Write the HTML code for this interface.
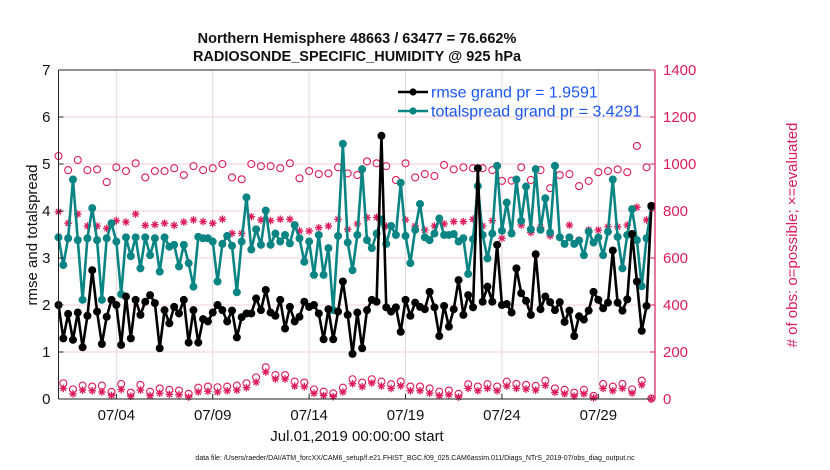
<!DOCTYPE html>
<html><head><meta charset="utf-8"><style>
body{margin:0;background:#fff;}
svg{display:block;font-family:"Liberation Sans",Arial,sans-serif;}
</style></head><body>
<svg id="c" width="830" height="470" viewBox="0 0 830 470">
<g id="grid"></g><g id="marks"></g><g id="axes"></g>
</svg>
<script>
const rmse=[2.0,1.29,1.81,1.26,1.84,1.1,1.77,2.74,1.86,1.17,1.75,2.11,2.0,1.15,2.18,1.29,2.11,1.79,2.07,2.21,2.04,1.08,1.89,1.61,1.96,1.82,2.11,1.2,1.89,1.2,1.7,1.65,
1.84,2.0,1.89,1.65,1.88,1.31,1.74,1.82,1.82,2.14,1.89,2.32,1.84,1.77,2.11,1.5,1.96,1.65,1.75,2.07,1.96,2.0,1.82,1.27,1.91,1.27,1.86,2.5,1.79,0.96,1.84,
1.08,1.89,2.11,2.07,5.6,1.95,1.86,1.95,1.43,2.11,1.77,2.05,1.96,1.91,2.28,1.95,1.34,1.98,1.54,1.91,2.53,1.79,2.21,1.95,4.91,2.07,2.39,2.07,3.28,2.0,2.02,
1.84,2.78,2.25,2.09,1.79,3.08,1.91,2.18,2.06,1.89,2.06,1.64,1.88,1.34,1.76,1.69,1.88,2.28,2.11,1.93,2.05,3.16,2.05,1.88,2.12,3.51,2.5,1.45,1.98,4.11];
const spread=[3.44,2.85,3.42,4.67,3.38,2.11,3.42,4.06,3.38,2.11,3.42,3.74,3.35,2.23,3.44,3.04,3.44,2.78,3.44,3.06,3.42,2.71,3.44,3.24,3.28,2.82,3.28,2.89,2.39,3.45,3.42,3.42,
3.35,2.5,3.3,3.47,3.26,2.27,3.35,4.29,3.18,3.61,3.28,4.01,3.28,3.52,3.35,3.49,3.31,3.7,3.42,2.92,3.35,2.64,3.49,2.64,3.21,1.89,3.47,5.43,3.33,2.74,3.49,
4.89,3.38,3.21,3.52,3.82,3.3,3.68,3.49,4.6,3.47,2.89,3.6,4.15,3.44,3.38,3.52,3.84,3.49,3.49,3.51,3.35,3.42,2.66,3.4,4.53,3.49,2.99,3.52,4.96,3.58,4.18,
3.52,4.67,3.79,4.52,3.61,4.89,3.6,4.27,3.54,4.96,3.44,3.3,3.44,3.3,3.37,3.06,3.56,3.33,3.44,3.06,3.56,4.67,3.45,2.78,3.49,4.04,3.38,2.4,3.42,4.09];
const possHigh=[1034,974,1017,974,977,923,986,970,1003,943,970,970,982,953,991,974,
982,1000,943,935,1000,991,991,982,1003,939,970,957,960,986,960,953,
1011,1003,991,932,1003,943,957,949,996,977,986,982,982,974,928,
929,986,932,974,897,953,957,906,928,965,970,977,965,1077,986];
const evalHigh=[797,748,787,736,736,726,759,753,787,739,742,748,739,753,762,755,
748,765,705,705,776,762,759,765,765,715,715,729,736,765,722,745,
772,773,736,698,762,736,719,736,745,755,755,765,736,759,684,
708,740,708,731,694,688,740,677,719,719,733,733,740,816,762];
const possLow=[67,41,57,53,57,30,64,27,60,31,45,39,36,22,48,53,
50,53,57,67,92,135,102,102,74,70,41,31,24,48,84,
70,84,74,63,74,53,53,45,31,36,22,63,53,63,53,74,
64,60,56,78,45,39,27,39,13,64,53,64,41,78,2];
const evalLow=[45,22,38,35,30,15,40,12,38,14,25,20,18,8,30,33,
30,35,38,48,72,115,85,85,55,52,24,15,10,30,65,
52,68,55,45,56,35,35,25,14,18,8,45,35,45,35,55,
45,42,38,58,28,22,12,22,5,45,35,45,25,60,0];
const yTicks=[0,1,2,3,4,5,6,7];
const rTicks=[0,200,400,600,800,1000,1200,1400];
const xTickDays=[3,8,13,18,23,28];
const xTickLabels=["07/04","07/09","07/14","07/19","07/24","07/29"];

const X0=58.5,X1=655,Y0=399,Y1=70,DAY=19.28;
const xT=i=>X0+i*DAY/4;
const xD=d=>X0+d*DAY;
const yL=v=>Y0-(v/7)*(Y0-Y1);
const yR=v=>Y0-(v/1400)*(Y0-Y1);
const NS="http://www.w3.org/2000/svg";
const MAG="#dc1c5a";
function mk(p,t,a){const e=document.createElementNS(NS,t);for(const k in a)e.setAttribute(k,a[k]);p.appendChild(e);return e;}
const grid=document.getElementById('grid'),marks=document.getElementById('marks'),axes=document.getElementById('axes');

for(let k=0;k<xTickDays.length;k++){
 const g=mk(grid,'line',{x1:xD(xTickDays[k]),x2:xD(xTickDays[k]),y1:Y1,y2:Y0,stroke:'#dcdcdc','stroke-width':1});
 
 
}
for(const v of rTicks.slice(1,-1)){
 const g=mk(grid,'line',{x1:X0,x2:X1,y1:yR(v),y2:yR(v),stroke:'#f5cfdc','stroke-width':1});
 
 
}

function circ(x,y){const c=mk(marks,'circle',{cx:x,cy:y,r:3.5,fill:'none',stroke:MAG,'stroke-width':1.1});
 
 }
function star(x,y){const g=mk(marks,'g',{stroke:MAG,'stroke-width':1.3});
 
 
 const r=3.8;mk(g,'line',{x1:x-r,x2:x+r,y1:y,y2:y});mk(g,'line',{x1:x,x2:x,y1:y-r,y2:y+r});
 const d=r*0.7;mk(g,'line',{x1:x-d,x2:x+d,y1:y-d,y2:y+d});mk(g,'line',{x1:x-d,x2:x+d,y1:y+d,y2:y-d});}
for(let j=0;j<possHigh.length;j++){circ(xT(2*j),yR(possHigh[j]));star(xT(2*j),yR(evalHigh[j]));}
for(let j=0;j<possLow.length;j++){circ(xT(2*j+1),yR(possLow[j]));star(xT(2*j+1),yR(evalLow[j]));}

function series(vals,col,name){
 const pl=mk(marks,'polyline',{points:vals.map((v,i)=>xT(i)+','+yL(v)).join(' '),fill:'none',stroke:col,'stroke-width':2.6,'stroke-linejoin':'round'});
 
 
 vals.forEach((v,i)=>{const c=mk(marks,'circle',{cx:xT(i),cy:yL(v),r:4,fill:col});
  
  });
}
series(spread,'#0b8484','totalspread');
series(rmse,'#000','rmse');

const fr=mk(axes,'path',{d:`M${X0} ${Y1}H${X1}M${X0} ${Y0}H${X1}M${X0} ${Y1}V${Y0}`,stroke:'#222','stroke-width':1,fill:'none'});

const ra=mk(axes,'line',{x1:X1,x2:X1,y1:Y1,y2:Y0,stroke:MAG,'stroke-width':1.2});

function txt(x,y,s,o){const t=mk(axes,'text',Object.assign({x:x,y:y,'font-size':15,fill:'#111'},o));t.textContent=s;return t;}
for(const v of yTicks){
 mk(axes,'line',{x1:X0,x2:X0+5,y1:yL(v),y2:yL(v),stroke:'#222'});
 const t=txt(X0-8,yL(v)+5,String(v),{'text-anchor':'end'});
 
}
for(const v of rTicks){
 mk(axes,'line',{x1:X1-5,x2:X1,y1:yR(v),y2:yR(v),stroke:MAG});
 const t=txt(X1+8,yR(v)+5,String(v),{fill:MAG});
 
}
for(let k=0;k<xTickDays.length;k++){
 const x=xD(xTickDays[k]);
 mk(axes,'line',{x1:x,x2:x,y1:Y0,y2:Y0-5,stroke:'#222'});
 const t=txt(x,Y0+21,xTickLabels[k],{'text-anchor':'middle'});
 
}
let t;
t=txt(357,43,'Northern Hemisphere 48663 / 63477 = 76.662%',{'text-anchor':'middle','font-weight':'bold','font-size':14.5});

t=txt(357,61,'RADIOSONDE_SPECIFIC_HUMIDITY @ 925 hPa',{'text-anchor':'middle','font-weight':'bold','font-size':14.5});

t=txt(357,441,'Jul.01,2019 00:00:00 start',{'text-anchor':'middle','font-size':15});

t=txt(0,0,'rmse and totalspread',{'text-anchor':'middle','transform':'translate(37,235) rotate(-90)'});

t=txt(0,0,'# of obs: o=possible; \u00d7=evaluated',{'text-anchor':'middle',fill:MAG,'transform':'translate(797,235) rotate(-90)'});

t=txt(415,460,'data file: /Users/raeder/DAI/ATM_forcXX/CAM6_setup/f.e21.FHIST_BGC.f09_025.CAM6assim.011/Diags_NTrS_2019-07/obs_diag_output.nc',{'text-anchor':'middle','font-size':7});


const lg=mk(axes,'g',{});

[['rmse grand pr = 1.9591','#000',92],['totalspread grand pr = 3.4291','#0b8484',111]].forEach(([s,c,y])=>{
 const e=mk(lg,'g',{});
 
 
 mk(e,'line',{x1:398,x2:428,y1:y,y2:y,stroke:c,'stroke-width':2.6});
 mk(e,'circle',{cx:413,cy:y,r:3.6,fill:c});
 const tt=mk(e,'text',{x:431,y:y+5.5,'font-size':16,fill:'#1a56f0'});tt.textContent=s;
});
</script>
</body></html>
